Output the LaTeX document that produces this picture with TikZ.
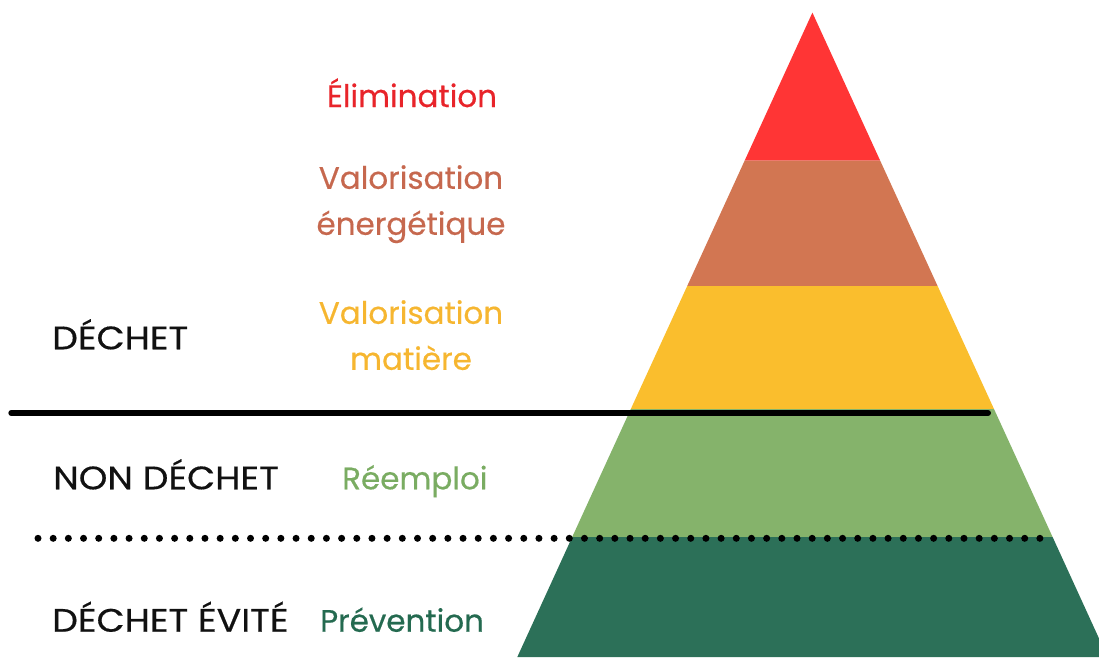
\documentclass[tikz,border=0pt]{standalone}
\usepackage{fontspec}
\setmainfont{Poppins}[FakeBold=0.45]
\newfontfamily\capsfont{Poppins}[FakeStretch=1.12, FakeBold=0.45]
\definecolor{bandred}{RGB}{255,53,53}
\definecolor{bandbrown}{RGB}{210,118,82}
\definecolor{bandyellow}{RGB}{250,190,45}
\definecolor{bandlight}{RGB}{133,179,107}
\definecolor{banddark}{RGB}{44,112,88}
\definecolor{txtred}{RGB}{232,36,42}
\definecolor{txtbrown}{RGB}{198,104,78}
\definecolor{txtyellow}{RGB}{246,182,48}
\definecolor{txtlight}{RGB}{122,172,98}
\definecolor{txtdark}{RGB}{36,106,80}
\definecolor{txtblack}{RGB}{17,17,17}
\tikzset{
  lbl/.style={inner sep=0pt, font=\fontsize{31}{46}\selectfont},
  catlbl/.style={inner sep=0pt, font=\capsfont\fontsize{32.5}{46}\selectfont, text=txtblack, anchor=base west},
  lvllbl/.style={lbl, anchor=base west},
  stacklbl/.style={lbl, align=center, anchor=base},
  sepline/.style={line width=6pt, line cap=round, black},
  dotline/.style={line width=7pt, line cap=round, dash pattern=on 0pt off 15.18pt, black},
}
\begin{document}
\begin{tikzpicture}[x=1pt,y=-1pt]
\useasboundingbox (0,0) rectangle (1099,657);
\begin{scope}
\clip (0,0) rectangle (1099,657);
% pyramid bands
\fill[bandred] (812.4,12.6) -- (880.1,160.5) -- (744.7,160.5) -- cycle;
\fill[bandbrown] (744.7,160.5) -- (880.1,160.5) -- (937.6,286) -- (687.2,286) -- cycle;
\fill[bandyellow] (687.2,286) -- (937.6,286) -- (994.0,409) -- (630.8,409) -- cycle;
\fill[bandlight] (630.8,409) -- (994.0,409) -- (1052.6,537) -- (572.2,537) -- cycle;
\fill[banddark] (572.2,537) -- (1052.6,537) -- (1107.5,657) -- (517.3,657) -- cycle;
\end{scope}
% separators
\coordinate (solidA) at (11.3,413);
\coordinate (solidB) at (988,413);
\coordinate (dotA) at (38,538.3);
\coordinate (dotB) at (1042,538.3);
\draw[sepline] (solidA) -- (solidB);
\draw[dotline] (dotA) -- (dotB);
% level labels
\node[stacklbl, text=txtred] (elim) at (412,107) {Élimination};
\node[stacklbl, text=txtbrown, anchor=north] (valen) at (411,165) {Valorisation\\énergétique};
\node[stacklbl, text=txtyellow, anchor=north] (valmat) at (411,300) {Valorisation\\matière};
\node[lvllbl, text=txtlight] (reemploi) at (342,489.3) {Réemploi};
\node[lvllbl, text=txtdark] (prev) at (320,631.7) {Prévention};
% category labels
\node[catlbl] (dechet) at (52,349.3) {DÉCHET};
\node[catlbl] (nondechet) at (53,489.3) {NON DÉCHET};
\node[catlbl] (evite) at (52,631.7) {DÉCHET ÉVITÉ};
\end{tikzpicture}
\end{document}
